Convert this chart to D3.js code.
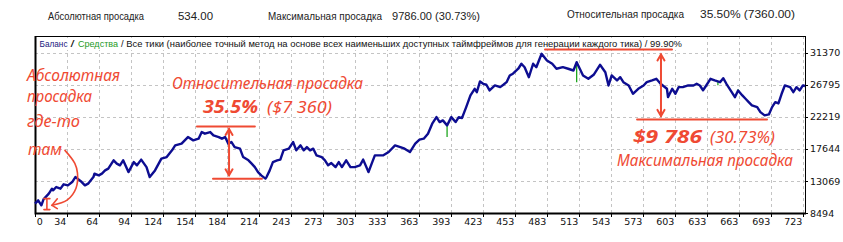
<!DOCTYPE html>
<html>
<head>
<meta charset="utf-8">
<script src="https://cdn.jsdelivr.net/npm/d3@7"></script>
<style>
  body { margin: 0; background: #fff; }
  svg { display: block; }
</style>
</head>
<body>
<div id="chart"></div>
<script>
// размеры картинки
const width = 843,
    height = 242;

// номер сделки / баланс
const trades = [0,3,6,8,13,16,17,20,24,27,31,35,38,40,44,47,50,55,56,60,
    63,66,69,74,77,80,83,88,93,96,100,105,108,113,119,124,129,132,138,144,
    149,154,157,160,165,168,173,176,179,182,185,188,193,196,201,204,207,210,213,217,
    218,221,224,228,231,234,239,243,246,250,253,256,259,262,265,270,273,276,279,283,
    286,289,293,297,301,306,309,314,317,320,328,333,339,344,348,353,358,362,366,370,
    374,378,381,384,388,392,396,399,402,406,410,414,416,419,422,425,428,433,438,441,
    444,447,450,455,458,461,465,469,472,477,482,487,491,497,502,507,510,516,521,526,
    532,537,540,543,548,551,554,559,563,568,573,576,581,585,589,595,596,600,603,606,
    610,615,620,623,626,629,632,636,640,645,648,651,656,659,662,666,669,672,675,680,
    683,687,691,694,697,700,703,706,711,714,717,720,723,725]

const balance = [9870,10340,9630,10480,11290,12000,11760,12230,12000,12620,
    12470,12940,13650,13430,12940,12470,12710,13650,14140,13890,
    14140,14600,14850,16030,15560,15320,16030,14360,15780,15320,
    16130,15070,13650,14600,16270,16490,17450,18160,18400,19340,
    18870,19110,20050,19820,20050,19580,19340,19110,19340,18400,
    18630,17920,17690,16490,16030,15560,15070,14360,13890,13430,
    13650,14600,15780,16030,16130,17450,17690,18630,17450,18160,
    17450,17920,17450,17690,16740,16490,16030,15320,15640,15070,
    15780,15070,16030,15070,15070,15320,16130,14360,15560,16740,
    16740,17210,18160,17920,17690,17210,18400,18970,19110,19820,
    21240,22180,21470,21710,21000,22180,21470,22180,22040,23600,
    25260,26210,25730,27250,26920,26780,25970,26680,26440,26780,
    27150,28100,28350,29060,29770,29280,27860,29770,29280,31190,
    30240,29770,29060,29280,29060,28810,29990,28100,27630,28200,
    29620,28570,26680,28100,27390,27860,27150,26680,25500,26210,
    26680,27150,27390,27630,26920,26210,25020,26210,25500,26440,
    26440,26680,26680,26920,26680,26000,26680,27630,27390,27150,
    27720,26920,25730,25020,25970,25260,24790,24310,23840,23600,
    22890,22420,22560,23600,24310,24130,25500,26680,26440,25730,
    26440,25970,26680,26610]

// средства - зелёные выбросы
const equityTrades = [388, 510, 643, 662]
const equityFrom = [21000, 29990, 27200, 26150]
const equityTo = [19340, 27150, 26700, 25750]

// подписи осей
const xTickLabels = ["0","34","64","94","124","154","184","214","243","273","303","333",
    "363","393","423","453","483","513","543","573","603","633","663","693","723"]
const yTicks = [8494, 13069, 17644, 22219, 26795, 31370]

// строка со сводкой сверху
const summaryNames = ["Абсолютная просадка", "Максимальная просадка", "Относительная просадка"]
const summaryValues = ["534.00", "9786.00 (30.73%)", "35.50% (7360.00)"]

// легенда
const legendParts = ["Баланс", "/", "Средства",
    "/ Все тики (наиболее точный метод на основе всех наименьших доступных таймфреймов для генерации каждого тика) / 99.90%"]

const frame = { left: 35, right: 805, top: 36, bottom: 213 }
const red = "#ef4a33"
const uiFont = "'DejaVu Sans', sans-serif"
const headFont = "'Liberation Sans', Arial, sans-serif"
const handFont = "'Noto Sans', sans-serif"

const svg = d3.select("#chart")
    .append("svg")
    .attr("width", width)
    .attr("height", height)

// scales
const x = d3.scaleLinear().domain([0, 725]).range([frame.left, frame.right])
const xTicks = d3.scalePoint().domain(xTickLabels).range([35.3, 803.3])
const y = d3.scaleLinear().domain([8494, 31370]).range([213.3, 52.5])

// сводка
const summaryLayout = [
    { x: 48, y: 20, w: 96 }, { x: 178, y: 20, w: 35 },
    { x: 268, y: 20, w: 114 }, { x: 392, y: 20, w: 88 },
    { x: 567, y: 18, w: 117 }, { x: 700, y: 18, w: 95 }
]
const summaryTexts = d3.merge(summaryNames.map((n, i) => [n, summaryValues[i]]))
svg.append("g")
    .selectAll("text")
    .data(summaryTexts)
    .join("text")
    .attr("x", (d, i) => summaryLayout[i].x)
    .attr("y", (d, i) => summaryLayout[i].y)
    .attr("textLength", (d, i) => summaryLayout[i].w)
    .attr("lengthAdjust", "spacingAndGlyphs")
    .style("font-family", headFont)
    .style("font-size", "11px")
    .style("fill", "#222")
    .text(d => d)

// grid
const grid = svg.append("g")
    .attr("stroke", "#c4c4c4")
    .attr("stroke-dasharray", "3,3")
    .attr("stroke-width", 1)

grid.selectAll("line.v")
    .data(xTickLabels.slice(1))
    .join("line")
    .attr("class", "v")
    .attr("x1", d => Math.round(xTicks(d)) + 0.5)
    .attr("x2", d => Math.round(xTicks(d)) + 0.5)
    .attr("y1", frame.top)
    .attr("y2", frame.bottom)

grid.selectAll("line.h")
    .data(yTicks.slice(1))
    .join("line")
    .attr("class", "h")
    .attr("x1", frame.left)
    .attr("x2", frame.right)
    .attr("y1", d => Math.round(y(d)) + 0.5)
    .attr("y2", d => Math.round(y(d)) + 0.5)

// легенда с белым фоном
svg.append("rect")
    .attr("x", 37).attr("y", 38)
    .attr("width", 646).attr("height", 12)
    .attr("fill", "#fff")

const legendLayout = [
    { x: 39.5, w: 28, c: "#1a1a80" }, { x: 70.5, w: 4, c: "#111" },
    { x: 78, w: 40, c: "#1e9a1e" }, { x: 121, w: 561, c: "#111" }
]
svg.append("g")
    .selectAll("text")
    .data(legendParts)
    .join("text")
    .attr("x", (d, i) => legendLayout[i].x)
    .attr("y", 47)
    .attr("textLength", (d, i) => legendLayout[i].w)
    .attr("lengthAdjust", "spacingAndGlyphs")
    .style("font-family", headFont)
    .style("font-size", "9.5px")
    .style("fill", (d, i) => legendLayout[i].c)
    .text(d => d)

// frame
svg.append("rect")
    .attr("x", frame.left + 0.5)
    .attr("y", frame.top + 0.5)
    .attr("width", frame.right - frame.left)
    .attr("height", frame.bottom - frame.top)
    .attr("fill", "none")
    .attr("stroke", "#000")
svg.append("path")
    .attr("d", `M${frame.left + 0.5},${frame.top}V${frame.bottom + 0.5}H${frame.right + 1}`)
    .attr("fill", "none")
    .attr("stroke", "#000")
    .attr("stroke-width", 2)

// x axis
const xAxis = svg.append("g")
xAxis.selectAll("line")
    .data(xTickLabels)
    .join("line")
    .attr("x1", d => Math.round(xTicks(d)) + 0.5)
    .attr("x2", d => Math.round(xTicks(d)) + 0.5)
    .attr("y1", frame.bottom)
    .attr("y2", frame.bottom + 4)
    .attr("stroke", "#000")
xAxis.selectAll("text")
    .data(xTickLabels)
    .join("text")
    .attr("x", (d, i) => i === 0 ? xTicks(d) + 1.5 : xTicks(d) - 1)
    .attr("y", 225)
    .attr("text-anchor", (d, i) => i === 0 ? "start" : "end")
    .style("font-family", uiFont)
    .style("font-size", "9.5px")
    .style("fill", "#111")
    .text(d => d)

// y axis (справа)
const yAxis = svg.append("g")
yAxis.selectAll("line")
    .data(yTicks)
    .join("line")
    .attr("x1", frame.right)
    .attr("x2", frame.right + 3)
    .attr("y1", d => Math.round(y(d)) + 0.5)
    .attr("y2", d => Math.round(y(d)) + 0.5)
    .attr("stroke", "#000")
yAxis.selectAll("text")
    .data(yTicks)
    .join("text")
    .attr("x", 810)
    .attr("y", d => y(d) + 3.5)
    .style("font-family", uiFont)
    .style("font-size", "9.5px")
    .style("fill", "#111")
    .text(d => d)

// equity spikes
svg.append("g")
    .selectAll("line")
    .data(equityTrades)
    .join("line")
    .attr("x1", d => x(d))
    .attr("x2", d => x(d))
    .attr("y1", (d, i) => y(equityFrom[i]))
    .attr("y2", (d, i) => y(equityTo[i]))
    .attr("stroke", "#1fa61f")
    .attr("stroke-width", 1.3)

// balance line
const line = d3.line()
    .x(d => x(d[0]))
    .y(d => y(d[1]))

svg.append("path")
    .datum(d3.zip(trades, balance))
    .attr("d", line)
    .attr("fill", "none")
    .attr("stroke", "#0d0d91")
    .attr("stroke-width", 2.4)
    .attr("stroke-linejoin", "round")

// ---- рукописные пометки ----
const notes = svg.append("g")
    .attr("stroke", red)
    .attr("stroke-width", 2)
    .attr("fill", "none")
    .attr("stroke-linecap", "round")

const arrowHead = (px, py, dir) => {
    // dir: 1 = вниз, -1 = вверх
    return `M${px - 3.5},${py - dir * 6}L${px},${py}L${px + 3.5},${py - dir * 6}`
}

// относительная просадка
notes.append("path").attr("d", `M${x(152.5)},${y(20860)}H${x(207)}`)
notes.append("path").attr("d", `M${x(167.6)},${y(13425)}H${x(213.7)}`)
notes.append("path").attr("d", `M${x(182.7)},${y(20500)}V${y(13900)}`)
notes.append("path").attr("d", arrowHead(x(182.7), y(20500), -1))
notes.append("path").attr("d", arrowHead(x(182.7), y(13900), 1))

// максимальная просадка
notes.append("path").attr("d", `M${x(480.2)},${y(31800)}H${x(599.8)}`)
notes.append("path").attr("d", `M${x(566.9)},${y(21850)}H${x(689.2)}`)
notes.append("path").attr("d", `M${x(589.4)},${y(31090)}V${y(22350)}`)
notes.append("path").attr("d", arrowHead(x(589.4), y(31090), -1))
notes.append("path").attr("d", arrowHead(x(589.4), y(22350), 1))

// абсолютная просадка
notes.append("path")
    .attr("stroke-width", 1.6)
    .attr("d", `M${x(8.4)},${y(10580)}H${x(14)}M${x(11.2)},${y(10580)}V${y(9020)}M${x(8.4)},${y(9020)}H${x(14)}`)
const curve = d3.line().curve(d3.curveCatmullRom)
    .x(d => x(d[0])).y(d => y(d[1]))
notes.append("path")
    .attr("stroke-width", 1.6)
    .attr("d", curve([[28.2, 17450], [37.5, 15600], [40, 14200], [38.6, 12050], [30.5, 10400], [16, 9630]]))
notes.append("path")
    .attr("stroke-width", 1.6)
    .attr("d", `M${x(21)},${y(10550)}L${x(16)},${y(9630)}L${x(21)},${y(9150)}`)

// подписи
const noteTexts = [
    { t: "Абсолютная", x: 27, y: 81, w: 93, size: 15.5 },
    { t: "просадка", x: 27, y: 102, w: 65, size: 15.5 },
    { t: "где-то", x: 27, y: 127, w: 53, size: 15.5 },
    { t: "там", x: 28, y: 155, w: 34, size: 15.5 },
    { t: "Относительная просадка", x: 172, y: 89, w: 191, size: 16 },
    { t: "35.5%", x: 203, y: 113, w: 55, size: 17, bold: true },
    { t: "($7 360)", x: 267, y: 113, w: 65, size: 16 },
    { t: "$9 786", x: 633, y: 143, w: 69, size: 17, bold: true },
    { t: "(30.73%)", x: 710, y: 143, w: 65, size: 16 },
    { t: "Максимальная просадка", x: 617, y: 166, w: 176, size: 16 }
]
svg.append("g")
    .selectAll("text")
    .data(noteTexts)
    .join("text")
    .attr("x", d => d.x)
    .attr("y", d => d.y)
    .attr("textLength", d => d.w)
    .attr("lengthAdjust", "spacingAndGlyphs")
    .style("font-family", handFont)
    .style("font-style", "italic")
    .style("font-weight", d => d.bold ? 700 : 400)
    .style("font-size", d => d.size + "px")
    .style("fill", red)
    .text(d => d.t)
</script>
</body>
</html>
